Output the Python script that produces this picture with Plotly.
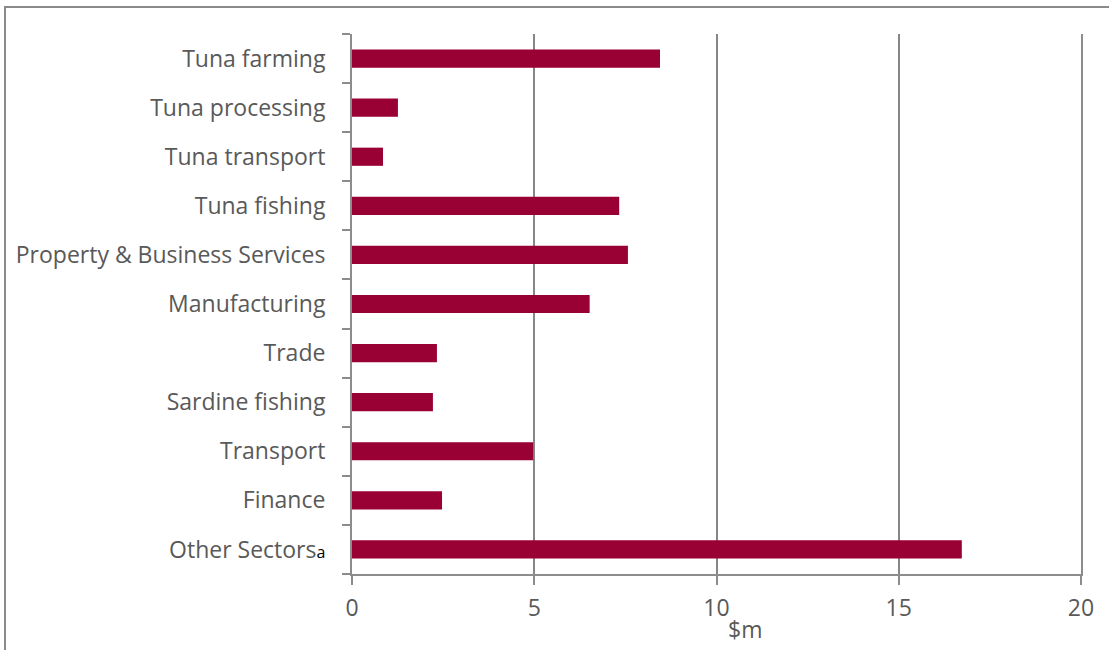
import plotly.graph_objects as go

categories = ["Tuna farming", "Tuna processing", "Tuna transport", "Tuna fishing",
              "Property & Business Services", "Manufacturing", "Trade",
              "Sardine fishing", "Transport", "Finance", "Other Sectors"]
values = [8.45, 1.26, 0.85, 7.33, 7.57, 6.52, 2.33, 2.22, 4.97, 2.47, 16.73]
tick_labels = categories[:-1] + ["Other Sectors<span style='font-size:16px;color:#000000'>a</span>"]
x_ticks = [0, 5, 10, 15, 20]

fig = go.Figure(go.Bar(
    x=values, y=categories, orientation="h",
    marker=dict(color="#990033", line=dict(width=0)),
    width=0.37,
))

fig.update_layout(
    width=1109, height=650,
    margin=dict(l=352, r=28, t=34, b=76),
    paper_bgcolor="white", plot_bgcolor="white",
    font=dict(family="Open Sans, Liberation Sans, sans-serif", size=23, color="#595959"),
    showlegend=False,
    xaxis=dict(range=[0, 20], tickvals=x_ticks, showgrid=True, gridcolor="#868686", gridwidth=2,
               showline=True, linecolor="#8c8c8c", linewidth=2, ticks="outside", ticklen=9,
               tickcolor="#8c8c8c", tickwidth=2, zeroline=False, ticklabelstandoff=3,
               tickfont=dict(size=23, color="#595959")),
    yaxis=dict(categoryorder="array", categoryarray=categories, autorange="reversed",
               tickvals=categories, ticktext=tick_labels,
               showline=True, mirror=True, linecolor="#8c8c8c", linewidth=2, ticks="outside", ticklen=8,
               tickcolor="#8c8c8c", tickwidth=2, tickson="boundaries", showgrid=False,
               tickfont=dict(size=23, color="#595959"), ticklabelstandoff=20),
    shapes=[dict(type="rect", xref="paper", yref="paper",
                 x0=(5 - 352) / 729, x1=1.2, y0=-0.3, y1=(574 - 7) / 540,
                 line=dict(color="#8a8a8a", width=2), fillcolor="rgba(0,0,0,0)", layer="below")],
    annotations=[dict(text="$m", xref="paper", yref="paper", x=(745 - 352) / 729,
                      y=(574 - 629) / 540, showarrow=False, xanchor="center", yanchor="middle",
                      font=dict(size=23, color="#595959"))],
)

fig.write_html("out.html", config={"displayModeBar": False},
               post_script="document.body.style.margin='0';document.body.style.overflow='hidden';")
